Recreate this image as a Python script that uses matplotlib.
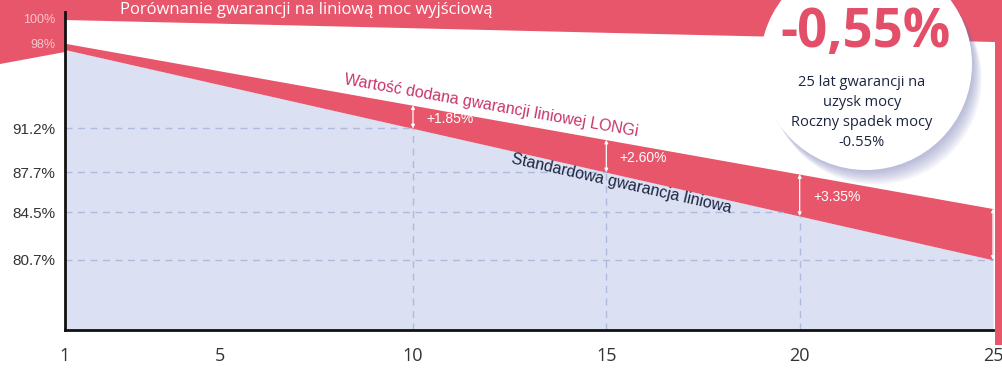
import numpy as np
import matplotlib
matplotlib.use("Agg")
import matplotlib.pyplot as plt
from matplotlib.patches import Polygon, Circle

# lata gwarancji i moc wyjsciowa [%]
years = [1, 5, 10, 15, 20, 25]
longi = [98.0, 95.8, 93.05, 90.3, 87.55, 84.8]
standard = [97.5, 94.7, 91.2, 87.7, 84.2, 80.7]
x_labels = ['1', '5', '10', '15', '20', '25']
y_ticks = [80.7, 84.5, 87.7, 91.2, 98, 100]
y_labels = ['80.7%', '84.5%', '87.7%', '91.2%', '98%', '100%']
grid_levels = [80.7, 84.5, 87.7, 91.2]
gain_years = [10, 15, 20, 25]
gain_label_years = [10, 15, 20]

red = '#e8566b'
blue = '#dbe0f2'
grid_col = '#aebbdc'
navy = '#1c2540'

W, H = 1003, 387
fig = plt.figure(figsize=(W / 100, H / 100), dpi=100)
fig.patch.set_facecolor('white')

def px(x, y):
    # piksele od lewego gornego rogu -> wspolrzedne figury
    return (x / W, 1 - y / H)

# czerwona ramka w tle
frame = Polygon([px(0, 0), px(W, 0), px(W, 345), px(995, 345), px(995, 42),
                 px(65, 20), px(65, 52), px(0, 64)],
                closed=True, transform=fig.transFigure, facecolor=red,
                edgecolor='none', zorder=-5)
fig.patches.append(frame)

ax = fig.add_axes([65 / W, (H - 330) / H, (993 - 65) / W, (330 - 12) / H])
ax.patch.set_visible(False)
ax.set_xlim(1, 25)
ax.set_ylim(75.1, 100.5)
ymin = ax.get_ylim()[0]

ax.fill_between(years, standard, ymin, color=blue, lw=0, zorder=1)
ax.fill_between(years, standard, longi, color=red, lw=0, zorder=2)

# linie pomocnicze do linii standardowej
std_rev_y = standard[::-1]
std_rev_x = years[::-1]
for lv in grid_levels:
    xe = np.interp(lv, std_rev_y, std_rev_x)
    ax.plot([1, xe], [lv, lv], color=grid_col, lw=1, ls=(0, (5, 4)), zorder=3)
for yr in [10, 15, 20]:
    ye = np.interp(yr, years, standard)
    ax.plot([yr, yr], [ymin, ye], color=grid_col, lw=1, ls=(0, (5, 4)), zorder=3)

# strzalki z przyrostem mocy
for yr in gain_years:
    lo = np.interp(yr, years, standard)
    hi = np.interp(yr, years, longi)
    ax.annotate('', xy=(yr, hi), xytext=(yr, lo),
                arrowprops=dict(arrowstyle='<|-|>', color='white', lw=0.9,
                                mutation_scale=5, shrinkA=0, shrinkB=0),
                zorder=4, annotation_clip=False)
    if yr in gain_label_years:
        ax.text(yr + 0.35, (lo + hi) / 2 - 0.15, '+%.2f%%' % (hi - lo),
                color='white', fontsize=10, family='Liberation Sans',
                ha='left', va='center', zorder=5)

ang_l = np.degrees(np.arctan2(longi[-1] - longi[0], years[-1] - years[0]))
ang_s = np.degrees(np.arctan2(standard[-1] - standard[0], years[-1] - years[0]))
ax.text(12.0, np.interp(12.0, years, longi) + 0.45,
        'Wartość dodana gwarancji liniowej LONGi', color='#c7356c',
        fontsize=11.5, family='Liberation Sans', ha='center', va='bottom',
        rotation=ang_l, rotation_mode='anchor', transform_rotates_text=True,
        zorder=5)
ax.text(15.4, np.interp(15.4, years, standard) - 0.6,
        'Standardowa gwarancja liniowa', color=navy,
        fontsize=11.5, family='Liberation Sans', ha='center', va='center',
        rotation=ang_s, rotation_mode='anchor', transform_rotates_text=True,
        zorder=5)

for s in ['top', 'right']:
    ax.spines[s].set_visible(False)
for s in ['left', 'bottom']:
    ax.spines[s].set_linewidth(2)
    ax.spines[s].set_color('#111111')
    ax.spines[s].set_zorder(6)

ax.set_xticks(years)
ax.set_xticklabels(x_labels, family='Open Sans', fontsize=13, color='#333333')
ax.set_yticks(y_ticks)
ax.set_yticklabels(y_labels, family='Liberation Sans', fontsize=11, color='#333333')
for lab in ax.get_yticklabels()[4:]:
    lab.set_color('#f7c5cc')
    lab.set_fontsize(9)
ax.tick_params(length=0)
ax.tick_params(axis='x', pad=12)
ax.tick_params(axis='y', pad=7)

# tytul (na czerwonym pasku)
fig.text(493 / W, 1 - 14 / H, 'Porównanie gwarancji na liniową moc wyjściową',
         color='white', fontsize=12, family='Open Sans', ha='right',
         va='baseline', zorder=10)

# kolo z informacja o spadku mocy
cx, cy, r = 8.66, (H - 64) / 100, 1.06
for i in range(8, 0, -1):
    sh = Circle((cx + 0.012 * i, cy - 0.018 * i), r, transform=fig.dpi_scale_trans,
                facecolor='#6f73b3', edgecolor='none', alpha=0.07, zorder=20)
    fig.patches.append(sh)
fig.patches.append(Circle((cx, cy), r, transform=fig.dpi_scale_trans,
                          facecolor='white', edgecolor='none', zorder=21))
fig.text(866 / W, 1 - 33 / H, '-0,55%', color='#e34f68', fontsize=38,
         fontweight='bold', family='Open Sans', ha='center', va='center', zorder=22)
circle_lines = ['25 lat gwarancji na', 'uzysk mocy', 'Roczny spadek mocy', '-0.55%']
for i, t in enumerate(circle_lines):
    fig.text(862 / W, 1 - (83 + 20 * i) / H, t, color=navy, fontsize=10.5,
             family='Open Sans', ha='center', va='center', zorder=22)

fig.savefig('out.png', dpi=100)
